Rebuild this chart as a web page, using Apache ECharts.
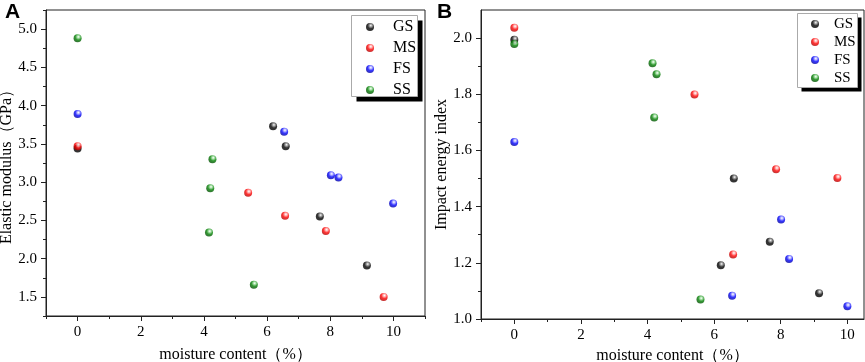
<!DOCTYPE html>
<html>
<head>
<meta charset="utf-8">
<script src="https://cdn.jsdelivr.net/npm/echarts@6/dist/echarts.min.js"></script>
<style>
html,body{margin:0;padding:0;background:#fff;}
#main{width:865px;height:362px;}
</style>
</head>
<body>
<div id="main"></div>
<script>
// series names
var groups = ['GS', 'MS', 'FS', 'SS'];

// panel A: elastic modulus (GPa) vs moisture content (%)
var gsA = [[0, 3.44], [6.19, 3.73], [6.59, 3.47], [7.67, 2.55], [9.16, 1.91]];
var msA = [[0, 3.47], [5.40, 2.86], [6.57, 2.56], [7.86, 2.36], [9.69, 1.50]];
var fsA = [[0, 3.89], [6.54, 3.66], [8.02, 3.09], [8.26, 3.06], [9.99, 2.72]];
var ssA = [[0, 4.88], [4.27, 3.30], [4.20, 2.92], [4.16, 2.34], [5.58, 1.66]];

// panel B: impact energy index vs moisture content (%)
var gsB = [[0, 1.994], [6.59, 1.50], [6.20, 1.191], [7.67, 1.275], [9.15, 1.092]];
var msB = [[0, 2.037], [5.41, 1.799], [6.57, 1.230], [7.86, 1.533], [9.70, 1.502]];
var fsB = [[0, 1.630], [6.54, 1.083], [8.01, 1.354], [8.25, 1.214], [10.0, 1.045]];
var ssB = [[0, 1.979], [4.15, 1.910], [4.27, 1.871], [4.20, 1.717], [5.59, 1.069]];

// tick labels
var xMajor = [0, 2, 4, 6, 8, 10];
var xMinorA = [-1, 1, 3, 5, 7, 9, 11];
var xMinorB = [-1, 1, 3, 5, 7, 9];
var yMajorA = [1.5, 2.0, 2.5, 3.0, 3.5, 4.0, 4.5, 5.0];
var yMinorA = [1.25, 1.75, 2.25, 2.75, 3.25, 3.75, 4.25, 4.75, 5.25];
var yMajorB = [1.0, 1.2, 1.4, 1.6, 1.8, 2.0];
var yMinorB = [1.1, 1.3, 1.5, 1.7, 1.9];

var serif = 'Liberation Serif';
var base = ['#000000', '#ff0000', '#0000ff', '#008000'];
var light = ['#9a9a9a', '#ffb0b0', '#b0b0ff', '#a0e0a0'];
var dark = ['#000000', '#b00000', '#0000a0', '#004d00'];

// shaded "ball" fill like the origin plot markers
function ball(i) {
	return {
		type: 'radial', x: 0.6, y: 0.32, r: 0.7,
		colorStops: [
			{offset: 0, color: '#ffffff'},
			{offset: 0.2, color: light[i]},
			{offset: 0.55, color: base[i]},
			{offset: 1, color: dark[i]}
		]
	};
}

function majorAxis(dim, grid, min, max, labels, name, gap, fmt) {
	return {
		type: 'value', gridIndex: grid, min: min, max: max,
		position: dim == 'x' ? 'bottom' : 'left',
		name: name, nameLocation: 'middle', nameGap: gap,
		nameTextStyle: {fontFamily: serif, fontSize: 16, color: '#000'},
		axisLine: {show: true, onZero: false, lineStyle: {color: '#222', width: 1}},
		axisTick: {show: true, length: 5, customValues: labels, lineStyle: {color: '#222'}},
		axisLabel: {customValues: labels, fontFamily: serif, fontSize: 15, color: '#000',
			margin: 9, formatter: fmt},
		splitLine: {show: false}
	};
}

function minorAxis(dim, grid, min, max, ticks) {
	return {
		type: 'value', gridIndex: grid, min: min, max: max,
		position: dim == 'x' ? 'bottom' : 'left',
		axisLine: {show: false, onZero: false},
		axisTick: {show: true, length: 3, customValues: ticks, lineStyle: {color: '#222'}},
		axisLabel: {show: false},
		splitLine: {show: false}
	};
}

var oneDec = function (v) { return v.toFixed(1); };
var intFmt = function (v) { return String(v); };

var dataA = [gsA, msA, fsA, ssA];
var dataB = [gsB, msB, fsB, ssB];
var series = [];
groups.forEach(function (g, i) {
	series.push({name: g, type: 'scatter', xAxisIndex: 0, yAxisIndex: 0, data: dataA[i],
		symbolSize: 8, itemStyle: {color: ball(i)}});
	series.push({name: g, type: 'scatter', xAxisIndex: 2, yAxisIndex: 2, data: dataB[i],
		symbolSize: 8, itemStyle: {color: ball(i)}});
});

function legendAt(left, top, gap, size, pad) {
	return {
		data: groups, orient: 'vertical', left: left, top: top, z: 10,
		icon: 'circle', itemWidth: 8, itemHeight: 8, itemGap: gap,
		padding: 0, selectedMode: false,
		textStyle: {fontFamily: serif, fontSize: size, color: '#000', padding: [0, 0, 0, pad], lineHeight: 15}
	};
}

// legend frame: white box with grey border and a hard black drop shadow
function frame(x, y, w, h, off) {
	return [
		{type: 'rect', z: 5, shape: {x: x + off, y: y + off, width: w, height: h}, style: {fill: '#000'}},
		{type: 'rect', z: 6, shape: {x: x, y: y, width: w, height: h}, style: {fill: '#fff', stroke: '#aaa', lineWidth: 1}}
	];
}

var chart = echarts.init(document.getElementById('main'));
chart.setOption({
	animation: false,
	title: [
		{text: 'A', left: 0, top: -3, textStyle: {fontFamily: 'Liberation Sans', fontWeight: 'bold', fontSize: 21, color: '#000'}},
		{text: 'B', left: 432, top: -3, textStyle: {fontFamily: 'Liberation Sans', fontWeight: 'bold', fontSize: 21, color: '#000'}}
	],
	graphic: frame(351.5, 15.5, 66, 81, 5).concat(frame(797.5, 13.5, 60, 74, 4)),
	legend: [legendAt(366, 19, 5, 16, 14), legendAt(811, 16.5, 3, 15, 10)],
	grid: [
		{left: 46, top: 10, width: 379, height: 306, outerBoundsMode: 'none', show: true, borderColor: '#222', borderWidth: 1, backgroundColor: 'transparent'},
		{left: 481, top: 10, width: 383, height: 309, outerBoundsMode: 'none', show: true, borderColor: '#222', borderWidth: 1, backgroundColor: 'transparent'}
	],
	xAxis: [
		majorAxis('x', 0, -1, 11, xMajor, 'moisture content（%）', 31, intFmt),
		minorAxis('x', 0, -1, 11, xMinorA),
		majorAxis('x', 1, -1, 10.5, xMajor, 'moisture content（%）', 29, intFmt),
		minorAxis('x', 1, -1, 10.5, xMinorB)
	],
	yAxis: [
		majorAxis('y', 0, 1.25, 5.25, yMajorA, 'Elastic modulus（GPa）', 28, oneDec),
		minorAxis('y', 0, 1.25, 5.25, yMinorA),
		majorAxis('y', 1, 1.0, 2.1, yMajorB, 'Impact energy index', 30, oneDec),
		minorAxis('y', 1, 1.0, 2.1, yMinorB)
	],
	series: series
});
</script>
</body>
</html>
